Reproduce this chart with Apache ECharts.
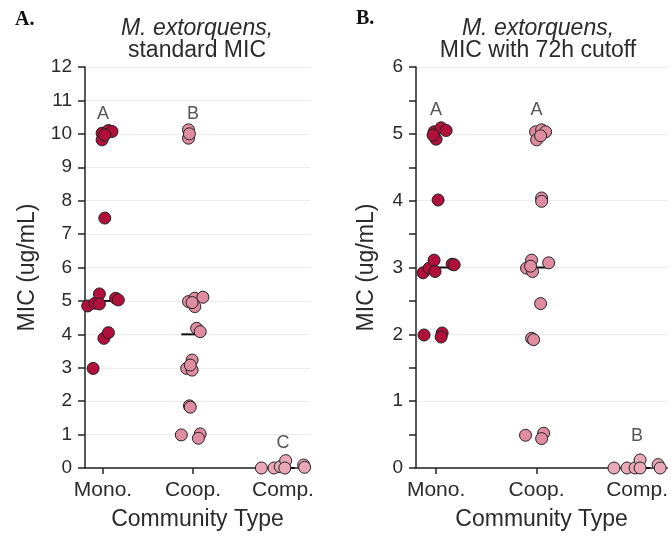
<!DOCTYPE html>
<html>
<head>
<meta charset="utf-8">
<script src="https://cdn.jsdelivr.net/npm/echarts@6/dist/echarts.min.js"></script>
<style>
  html, body { margin: 0; padding: 0; background: #fff; }
  #chart { width: 671px; height: 540px; }
</style>
</head>
<body>
<div id="chart"></div>
<script>
// ==============================================
// DATOS
// ==============================================

const grupos = ['Mono.', 'Coop.', 'Comp.'];
const colores = ['#b0103a', '#e08ca0', '#e8a8b8'];

// Panel A: MIC estándar  [x con jitter, MIC]
const monoStd = [[0.99,10.02],[1.06,10.1],[1.10,10.07],[0.99,9.82],[1.02,9.97],[1.02,7.48],
    [0.83,4.85],[0.91,4.93],[0.96,5.21],[0.96,4.91],[1.14,5.08],[1.17,5.03],[1.01,3.88],[1.06,4.05],[0.89,2.98]];
const coopStd = [[1.95,10.12],[1.95,9.87],[1.96,10.0],[1.95,4.98],[2.02,5.08],[2.11,5.11],[2.02,4.83],[1.99,4.95],
    [2.04,4.18],[2.08,4.08],[1.99,3.23],[1.93,2.98],[1.99,2.93],[1.97,3.08],[1.96,1.86],[1.97,1.82],
    [1.87,0.99],[2.08,1.02],[2.06,0.89]];
const compStd = [[2.76,0],[2.90,0],[2.97,0.04],[3.03,0.22],[3.02,0],[3.23,0.09],[3.24,0.02]];
const medianasStd = [5, 4, 0];
const letrasStd = [[1, 10.6, 'A'], [2, 10.6, 'B'], [3, 0.75, 'C']];

// Panel B: MIC con corte a 72h
const monoCut = [[0.98,5.03],[1.05,5.09],[1.10,5.05],[1.0,4.92],[0.97,4.98],[1.02,4.01],
    [0.87,2.92],[0.93,2.99],[0.98,3.11],[0.99,2.94],[1.16,3.05],[1.18,3.04],[0.88,1.99],[1.06,2.02],[1.05,1.96]];
const coopCut = [[1.99,5.03],[2.05,5.06],[2.09,5.03],[2.0,4.91],[2.04,4.97],[2.05,4.04],[2.05,3.99],
    [1.95,3.11],[1.90,2.99],[1.96,2.94],[2.12,3.07],[1.94,3.02],[2.04,2.46],[1.95,1.94],[1.97,1.92],
    [1.89,0.49],[2.07,0.52],[2.05,0.44]];
const compCut = [[2.77,0],[2.90,0],[2.98,0],[3.03,0.12],[3.03,0],[3.21,0.05],[3.23,0]];
const medianasCut = [3, 3, 0];
const letrasCut = [[1, 5.35, 'A'], [2, 5.35, 'A'], [3, 0.48, 'B']];

const yTicksStd = { max: 12, interval: 1 };
const yTicksCut = { max: 6, interval: 1 };

// ==============================================
// CONSTRUCCIÓN DE LAS SERIES
// ==============================================

const FONT = 'Liberation Sans';
const TXT = '#2b2b2b';

function seriesPanel(idx, puntos, medianas, letras) {
    const out = [];
    medianas.forEach((m, i) => {
        out.push({
            type: 'line', xAxisIndex: idx, yAxisIndex: idx, symbol: 'none', z: 2,
            lineStyle: { color: '#111', width: 2 },
            data: [[i + 1 - 0.13, m], [i + 1 + 0.13, m]]
        });
    });
    puntos.forEach((pts, i) => {
        out.push({
            type: 'scatter', xAxisIndex: idx, yAxisIndex: idx, symbolSize: 12, z: 3,
            itemStyle: { color: colores[i], borderColor: '#222', borderWidth: 1, opacity: 1 },
            data: pts
        });
    });
    out.push({
        type: 'scatter', xAxisIndex: idx, yAxisIndex: idx, symbolSize: 0, z: 4,
        label: { show: true, position: 'inside', formatter: p => p.data[2],
                 fontFamily: FONT, fontSize: 18, color: TXT },
        data: letras
    });
    return out;
}

function ejeX(idx) {
    return {
        gridIndex: idx, type: 'value', min: 0.8, max: 3.3,
        name: 'Community Type', nameLocation: 'middle', nameGap: 40,
        nameTextStyle: { fontFamily: FONT, fontSize: 23, color: TXT },
        axisLine: { show: true, onZero: false, lineStyle: { color: '#222', width: 1.5 } },
        axisTick: { show: true, length: 6, customValues: [1, 2, 3], lineStyle: { color: '#222', width: 1.5 } },
        axisLabel: { customValues: [1, 2, 3], formatter: v => grupos[Math.round(v) - 1] || '',
                     margin: 12, fontFamily: FONT, fontSize: 21, color: TXT },
        splitLine: { show: false }
    };
}

function ejeY(idx, t, gap, menores) {
    return {
        gridIndex: idx, type: 'value', min: 0, max: t.max, interval: t.interval,
        name: 'MIC (ug/mL)', nameLocation: 'middle', nameGap: gap,
        nameTextStyle: { fontFamily: FONT, fontSize: 23, color: TXT },
        axisLine: { show: true, lineStyle: { color: '#222', width: 1.5 } },
        axisTick: { show: true, length: 7, lineStyle: { color: '#222', width: 1.5 } },
        minorTick: { show: menores, splitNumber: 2, length: 7, lineStyle: { color: '#222', width: 1.5 } },
        axisLabel: { margin: 13, fontFamily: FONT, fontSize: 19, color: TXT },
        splitLine: { show: true, lineStyle: { color: '#ececec', width: 1 } }
    };
}

const chart = echarts.init(document.getElementById('chart'), null, { renderer: 'canvas' });

const option = {
    animation: false,
    backgroundColor: '#fff',
    grid: [
        { left: 85, top: 67, width: 225, bottom: 72 },
        { left: 416, top: 67, width: 255, bottom: 72 }
    ],
    xAxis: [ejeX(0), ejeX(1)],
    yAxis: [ejeY(0, yTicksStd, 46, false), ejeY(1, yTicksCut, 38, true)],
    graphic: [
        { type: 'text', left: 15, top: 10, style: { text: 'A.', font: 'bold 20px "Liberation Serif"', fill: '#111' } },
        { type: 'text', left: 356, top: 9, style: { text: 'B.', font: 'bold 20px "Liberation Serif"', fill: '#111' } },
        { type: 'text', x: 197, y: 29, style: { text: 'M. extorquens,', font: 'italic 23px "Liberation Sans"', fill: TXT, align: 'center', verticalAlign: 'middle' } },
        { type: 'text', x: 197, y: 51, style: { text: 'standard MIC', font: '23px "Liberation Sans"', fill: TXT, align: 'center', verticalAlign: 'middle' } },
        { type: 'text', x: 538, y: 29, style: { text: 'M. extorquens,', font: 'italic 23px "Liberation Sans"', fill: TXT, align: 'center', verticalAlign: 'middle' } },
        { type: 'text', x: 538, y: 51, style: { text: 'MIC with 72h cutoff', font: '23px "Liberation Sans"', fill: TXT, align: 'center', verticalAlign: 'middle' } }
    ],
    series: [
        ...seriesPanel(0, [monoStd, coopStd, compStd], medianasStd, letrasStd),
        ...seriesPanel(1, [monoCut, coopCut, compCut], medianasCut, letrasCut)
    ]
};

chart.setOption(option);
</script>
</body>
</html>
